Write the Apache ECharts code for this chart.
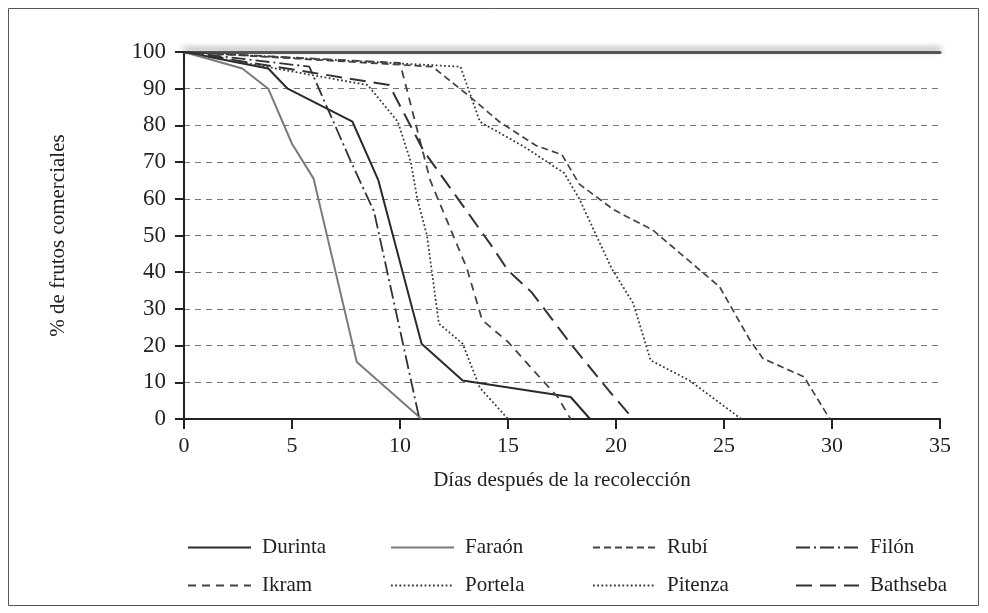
<!DOCTYPE html>
<html>
<head>
<meta charset="utf-8">
<script src="https://cdn.jsdelivr.net/npm/echarts@6/dist/echarts.min.js"></script>
<style>
  html, body { margin: 0; padding: 0; background: #fff; }
  #chart { width: 988px; height: 613px; }
</style>
</head>
<body>
<div id="chart"></div>
<script>
// días después de la recolección vs % de frutos comerciales
var xTicks = [0, 5, 10, 15, 20, 25, 30, 35];
var yTicks = [0, 10, 20, 30, 40, 50, 60, 70, 80, 90, 100];

var durinta = [[0, 100], [3.9, 95.5], [4.8, 90], [7.8, 81], [9, 65], [11, 20.5], [12.9, 10.5], [17.9, 6], [18.8, 0]];
var faraon = [[0, 100], [2.7, 95.5], [3.9, 90], [5, 75], [6, 65.5], [8, 15.5], [11, 0]];
var rubi = [[0, 100], [11.5, 96], [13.2, 88], [14.6, 81], [16.3, 74.5], [17.5, 72], [18.3, 64], [19.9, 57], [21.7, 51.5], [22.6, 47], [24.8, 36], [26.2, 21.5], [26.8, 16.5], [28.7, 11.5], [29.9, 0]];
var filon = [[0, 100], [5.8, 96], [7.7, 70.5], [8.8, 56.5], [10.9, 0]];
var ikram = [[0, 100], [10, 97], [11.4, 65], [13.1, 41], [13.8, 27], [15, 21], [16.6, 10.5], [17.3, 6], [17.9, 0]];
var portela = [[0, 100], [8.5, 91], [9.9, 81], [10.5, 70], [10.8, 60], [11.25, 50], [11.8, 26], [12.9, 20.5], [13.7, 8.5], [15, 0]];
var pitenza = [[0, 100], [12.8, 96], [13.7, 81], [15.8, 74], [17.6, 67], [18.3, 60], [19.8, 41], [20.8, 31.5], [21.6, 16], [23.4, 10.5], [25.8, 0]];
var bathseba = [[0, 100], [9.5, 91], [11.1, 73], [12.5, 61.5], [14.2, 47.5], [15, 40.5], [16.1, 34.5], [17, 27.5], [17.9, 20.5], [19.7, 7.5], [20.8, 0]];

var serif = '"Liberation Serif", "DejaVu Serif", serif';

function line(name, data, color, type, width) {
    return {
        name: name,
        type: 'line',
        data: data,
        symbol: 'none',
        silent: true,
        animation: false,
        lineStyle: { color: color, type: type, width: width },
        itemStyle: { color: color }
    };
}

function legendCol(left, names) {
    return {
        orient: 'vertical',
        left: left,
        top: 537,
        padding: 0,
        data: names,
        itemWidth: 63,
        itemHeight: 14,
        itemGap: 17,
        itemStyle: { opacity: 0 },
        textStyle: { fontFamily: serif, fontSize: 21, lineHeight: 21, color: '#222', padding: [0, 0, 0, 6] }
    };
}

var myChart = echarts.init(document.getElementById('chart'));
myChart.setOption({
    backgroundColor: '#fff',
    animation: false,
    grid: { left: 184, right: 48, top: 52, bottom: 194 },
    graphic: [
        {
            type: 'rect',
            shape: { x: 8.5, y: 8.5, width: 970, height: 597 },
            style: { fill: 'none', stroke: '#555', lineWidth: 1 }
        }
    ],
    legend: [
        legendCol(187, ['Durinta', 'Ikram']),
        legendCol(390, ['Faraón', 'Portela']),
        legendCol(592, ['Rubí', 'Pitenza']),
        legendCol(795, ['Filón', 'Bathseba'])
    ],
    xAxis: [
        {
            type: 'value',
            min: 0,
            max: 35,
            interval: 5,
            name: 'Días después de la recolección',
            nameLocation: 'middle',
            nameGap: 51,
            nameTextStyle: { fontFamily: serif, fontSize: 21, color: '#222', verticalAlign: 'top' },
            axisLine: { lineStyle: { color: '#222', width: 2 } },
            axisTick: { show: true, length: 10, lineStyle: { color: '#222', width: 2 } },
            axisLabel: { margin: 16, fontFamily: serif, fontSize: 22, color: '#222' },
            splitLine: { show: false }
        },
        {
            type: 'value',
            position: 'top',
            min: 0,
            max: 35,
            axisLine: {
                onZero: false,
                lineStyle: { color: '#555', width: 3, shadowBlur: 6, shadowColor: 'rgba(0,0,0,0.45)', shadowOffsetY: -3 }
            },
            axisTick: { show: false },
            axisLabel: { show: false },
            splitLine: { show: false }
        }
    ],
    yAxis: {
        type: 'value',
        min: 0,
        max: 100,
        interval: 10,
        name: '% de frutos comerciales',
        nameLocation: 'middle',
        nameGap: 115,
        nameRotate: 90,
        nameTextStyle: { fontFamily: serif, fontSize: 21, color: '#222' },
        axisLine: { show: true, lineStyle: { color: '#222', width: 2 } },
        axisTick: { show: true, length: 9, lineStyle: { color: '#222', width: 2 } },
        axisLabel: { margin: 18, fontFamily: serif, fontSize: 23, color: '#222' },
        splitLine: { show: true, lineStyle: { color: '#777', type: [6, 5], width: 1 } }
    },
    series: [
        line('Durinta', durinta, '#2a2a2a', 'solid', 2),
        line('Faraón', faraon, '#7a7a7a', 'solid', 2),
        line('Rubí', rubi, '#444', [7, 4], 1.7),
        line('Filón', filon, '#333', [14, 4, 2, 4], 1.8),
        line('Ikram', ikram, '#444', [8, 6], 1.8),
        line('Portela', portela, '#3a3a3a', [1.8, 2.4], 1.8),
        line('Pitenza', pitenza, '#3a3a3a', [1.8, 2.4], 1.8),
        line('Bathseba', bathseba, '#333', [16, 8], 2)
    ]
});
</script>
</body>
</html>
